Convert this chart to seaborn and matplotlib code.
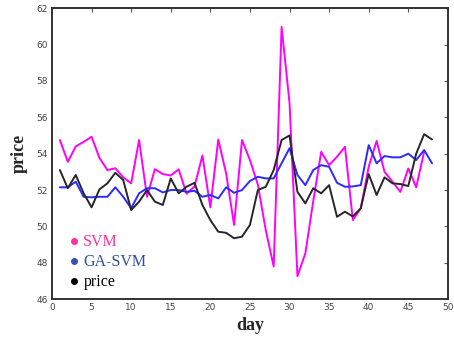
import pandas as pd
import seaborn as sns
import matplotlib.pyplot as plt
from matplotlib.lines import Line2D

# values
days = list(range(1, 49))
svm = [54.75, 53.55, 54.4, 54.65, 54.93, 53.76, 53.1, 53.2, 52.7, 52.37,
       54.75, 51.63, 53.15, 52.88, 52.8, 53.14, 51.8, 52.2, 53.9, 51.05,
       54.78, 52.9, 50.08, 54.75, 53.65, 52.3, 49.8, 47.8, 60.97, 56.8,
       47.27, 48.52, 51.4, 54.1, 53.37, 53.83, 54.38, 50.35, 51.0, 53.28,
       54.7, 53.0, 52.46, 51.9, 53.19, 52.15, 54.1]
ga_svm = [52.15, 52.15, 52.46, 51.63, 51.6, 51.63, 51.63, 52.15, 51.63, 51.0,
          51.82, 52.1, 52.1, 51.87, 52.0, 52.0, 51.9, 51.96, 51.63, 51.73,
          51.54, 52.15, 51.85, 52.0, 52.5, 52.73, 52.64, 52.64, 53.47, 54.3,
          52.83, 52.27, 53.1, 53.37, 53.28, 52.4, 52.18, 52.2, 52.27, 54.47,
          53.47, 53.87, 53.8, 53.8, 54.0, 53.65, 54.2, 53.47]
price = [53.1, 52.1, 52.83, 51.82, 51.05, 52.04, 52.37, 52.95, 52.55, 50.9,
         51.36, 52.0, 51.36, 51.18, 52.64, 51.82, 52.18, 52.4, 51.18, 50.35,
         49.71, 49.65, 49.35, 49.44, 50.08, 52.0, 52.18, 53.1, 54.75, 55.0,
         51.9, 51.27, 52.1, 51.82, 52.27, 50.53, 50.81, 50.55, 51.0, 52.88,
         51.73, 52.7, 52.37, 52.33, 52.22, 54.0, 55.07, 54.78]

series_names = ["SVM", "GA-SVM", "price"]
line_colors = ["#ff00ff", "#2b2bff", "#262626"]
text_colors = ["#ff3399", "#2f4f9f", "#000000"]
dot_colors = ["#ff3399", "#3355aa", "#000000"]

df = pd.DataFrame({
    "day": days[:len(svm)] + days + days,
    "value": svm + ga_svm + price,
    "series": ["SVM"] * len(svm) + ["GA-SVM"] * len(ga_svm) + ["price"] * len(price),
})

sns.set_style("white")

fig = plt.figure(figsize=(4.54, 3.4), dpi=100)
ax = fig.add_axes([0.1145, 0.12, 0.872, 0.856])

sns.lineplot(data=df, x="day", y="value", hue="series", hue_order=series_names,
             palette=line_colors, linewidth=1.4, legend=False, ax=ax)

ax.set_xlim(0, 50)
ax.set_ylim(46, 62)
ax.set_xticks(range(0, 51, 5))
ax.set_yticks(range(46, 63, 2))
ax.tick_params(direction="in", length=3, width=0.8, top=True, right=True,
               labelsize=6.5, labelcolor="#444444", colors="#555555", pad=3)
for sp in ax.spines.values():
    sp.set_color("#333333")
    sp.set_linewidth(1.4)

ax.set_xlabel("day", family="Liberation Serif", fontsize=13, fontweight="bold",
              labelpad=3)
ax.set_ylabel("price", family="Liberation Serif", fontsize=13, fontweight="bold",
              labelpad=6)

# legend with dots
handles = [Line2D([], [], marker="o", linestyle="none", markersize=4,
                  color=c) for c in dot_colors]
leg = ax.legend(handles, series_names, loc="lower left", bbox_to_anchor=(0.045, 0.03),
                frameon=False, handlelength=0.5, handletextpad=0.35,
                labelspacing=0.25, borderpad=0, borderaxespad=0,
                prop={"family": "Liberation Serif", "size": 11.5})
for t, c in zip(leg.get_texts(), text_colors):
    t.set_color(c)

fig.savefig("out.png", dpi=100)
